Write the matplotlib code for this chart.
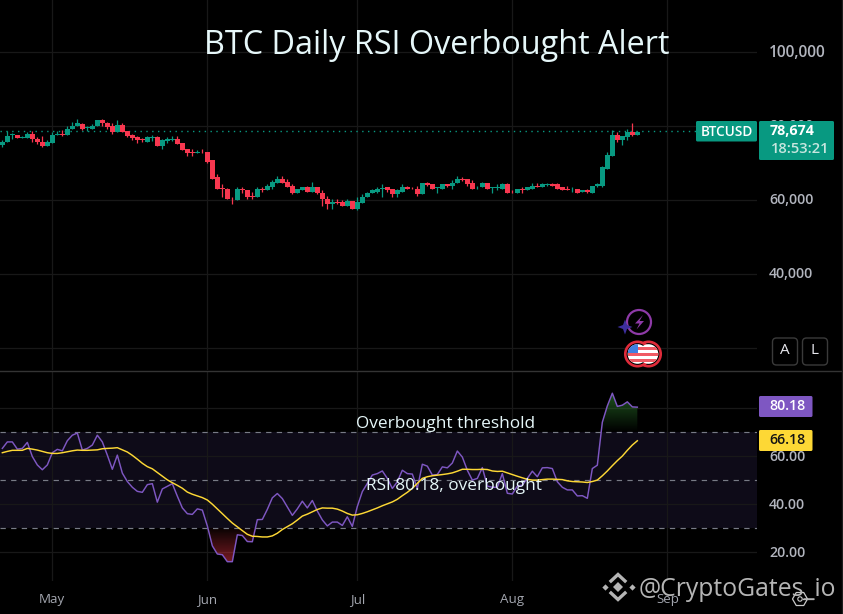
import numpy as np
import pandas as pd
import matplotlib
matplotlib.use("Agg")
import matplotlib.pyplot as plt
import matplotlib.dates as mdates
from matplotlib.patches import Circle, Rectangle, FancyBboxPatch, Polygon
from matplotlib.ticker import FixedLocator, FixedFormatter
from matplotlib.transforms import ScaledTranslation

START_DATE = "2024-04-21"

OPEN = [75.4,76.0,78.0,78.1,77.1,77.1,78.3,77.0,76.2,75.1,75.7,78.0,78.2,78.1,79.5,80.3,81.0,79.9,79.7,80.3,81.9,81.35,80.3,78.65,80.8,79.0,78.0,77.3,76.8,76.2,
        77.1,77.3,74.9,76.3,76.7,77.0,75.7,74.1,73.25,73.1,73.5,73.25,71.1,66.5,63.7,63.5,60.7,60.3,63.25,63.0,61.55,61.1,63.25,63.0,64.05,65.1,66.2,65.4,64.3,62.4,
        63.15,64.05,62.7,63.8,62.4,60.8,59.3,59.75,59.75,58.9,60.0,58.1,59.5,61.1,62.2,62.7,63.5,63.8,63.25,61.9,62.7,64.05,63.5,63.5,61.9,64.9,64.6,63.6,63.5,64.6,
        64.3,64.9,66.2,66.0,64.9,63.8,63.8,65.1,63.6,63.6,63.5,64.6,62.7,62.4,63.35,63.0,63.5,64.3,63.8,64.4,64.6,64.6,63.8,63.25,63.0,63.25,62.7,63.0,62.4,64.2,
        64.3,68.9,72.4,78.1,76.5,77.3,78.65,78.1]
HIGH = [76.7,79.1,78.4,78.1,77.75,78.65,79.1,77.3,77.6,76.6,78.65,79.0,79.2,80.45,81.6,82.4,81.2,80.45,80.9,82.1,82.2,81.6,81.1,81.9,81.35,79.0,78.3,77.75,77.2,77.6,
        78.0,77.6,77.0,77.3,77.7,77.8,75.7,74.3,74.1,73.8,74.1,73.5,71.1,67.3,64.6,63.7,61.35,64.05,64.05,63.15,62.7,63.8,64.05,64.6,65.7,67.0,66.8,66.2,64.6,63.5,
        64.05,64.2,65.4,64.05,63.0,61.6,60.55,60.55,60.3,60.55,60.0,61.1,61.9,62.7,63.25,63.8,64.6,64.05,63.5,63.25,64.6,64.3,64.05,64.3,64.9,65.4,64.6,64.05,64.6,64.6,
        65.7,66.8,66.5,66.0,65.7,64.3,65.4,65.1,63.8,64.6,64.9,65.1,63.0,63.5,63.8,64.05,64.9,64.9,65.1,64.9,65.1,65.1,64.05,64.3,63.8,63.25,63.0,63.25,64.3,64.9,
        69.7,73.25,79.2,78.65,77.75,79.7,81.1,79.0]
LOW = [74.6,76.0,76.85,77.1,77.1,77.1,76.2,75.5,74.6,75.1,75.7,78.0,77.8,78.0,79.5,80.3,79.3,79.0,79.7,80.3,80.45,79.7,78.2,78.65,78.65,77.3,76.6,75.7,76.0,76.2,
       76.4,74.9,74.1,75.8,76.3,75.5,73.8,72.25,72.2,73.0,73.0,70.4,66.0,63.5,61.1,60.55,59.2,60.3,62.2,60.55,60.55,61.1,62.7,63.0,63.5,65.1,65.1,63.8,61.9,62.2,
       63.15,62.7,62.7,61.9,58.9,57.85,58.1,59.4,58.65,58.9,57.85,57.6,59.5,61.1,62.2,62.2,61.1,62.7,61.35,61.35,62.7,63.25,63.25,61.6,61.9,64.3,63.25,62.2,63.5,64.05,
       63.5,64.9,65.5,64.3,63.5,63.5,63.8,63.25,62.4,63.0,63.25,62.4,62.2,62.4,62.2,63.0,63.5,63.8,63.8,64.3,64.3,63.5,63.0,63.0,62.7,62.2,62.7,62.4,62.4,63.8,
       64.05,68.65,72.4,76.2,75.4,76.5,77.6,78.1]
CLOSE = [76.2,77.8,78.1,77.1,77.3,78.3,76.85,76.0,75.1,76.0,78.0,78.2,78.0,79.5,80.5,81.1,79.5,80.1,80.5,81.9,81.1,80.0,78.65,80.8,78.65,77.7,77.1,76.6,76.6,77.3,
         77.3,74.9,76.5,76.8,77.0,75.5,73.8,73.0,73.1,73.4,73.3,70.8,66.2,63.5,63.5,60.55,60.55,63.25,63.1,61.35,61.35,63.25,63.0,64.3,65.4,66.2,65.1,64.05,62.4,63.25,
         64.05,62.7,63.8,62.2,60.55,59.2,59.75,59.55,58.9,60.0,58.1,59.75,61.35,62.4,63.0,63.5,63.7,63.0,61.9,63.0,64.05,63.25,63.25,61.9,64.9,64.4,63.25,63.9,64.6,64.3,
         65.1,66.2,65.8,64.6,63.5,64.05,65.1,63.25,63.8,63.9,64.6,62.4,62.5,63.25,63.15,63.8,64.3,63.8,64.6,64.6,64.3,63.5,63.0,63.0,63.15,62.4,63.0,62.7,64.3,64.6,
         69.2,72.7,78.1,76.5,77.6,78.65,78.1,78.67]
# read-off calibration of the candle values against the price grid, in thousands
PRICE_CAL = -0.35

RSI = [63.0,65.7,65.7,62.7,63.0,65.5,59.6,56.1,54.1,56.1,61.2,62.6,62.0,66.2,68.5,69.4,62.3,63.0,64.4,68.5,65.7,60.2,54.3,60.2,52.7,49.2,46.8,45.1,44.7,47.9,
       48.3,40.6,46.1,47.2,48.3,43.1,38.2,35.8,35.5,37.8,37.3,30.7,22.4,19.0,18.7,15.8,15.8,27.0,26.7,24.2,24.1,33.3,33.4,37.6,42.4,44.2,42.1,38.6,35.1,37.8,
       41.0,38.2,41.3,36.9,33.2,30.7,32.3,32.3,30.9,34.5,
       30.5,38.8,45.0,48.4,51.9,52.5,53.6,50.5,46.3,49.1,53.9,52.5,52.3,46.3,56.4,55.6,51.9,52.1,55.3,54.9,56.9,61.9,59.4,53.9,49.8,50.5,55.0,47.3,46.8,46.8,
       52.5,44.3,44.0,47.3,47.7,50.5,53.5,51.2,54.9,55.0,54.6,49.1,46.8,45.7,45.7,43.2,43.3,42.2,54.6,56.0,73.9,80.7,86.0,80.5,81.0,82.4,80.3,80.18]
RSI_MA = [61.2,61.75,62.2,62.2,62.2,63.0,62.7,62.3,61.75,61.2,60.9,60.9,61.2,61.6,62.0,62.3,62.2,62.2,62.3,62.4,62.85,63.0,63.1,63.3,62.4,61.5,60.1,58.5,56.8,55.4,
          54.5,52.95,51.4,49.9,48.7,47.6,46.4,44.8,43.9,43.2,42.5,41.5,39.75,37.8,35.8,33.8,31.9,30.3,28.75,27.2,26.4,26.3,26.1,26.1,26.55,27.65,29.2,30.4,31.6,33.15,
          34.8,35.6,36.6,37.55,38.2,38.1,38.1,37.7,36.9,35.9,
          35.2,35.35,35.9,36.6,37.4,38.2,39.1,39.9,40.7,41.8,43.3,44.7,46.35,48.4,50.5,51.2,51.6,51.85,52.1,52.4,52.8,53.5,54.3,54.3,54.2,54.2,54.3,54.2,53.6,53.4,
          53.5,52.8,52.1,51.4,50.75,50.1,49.8,49.8,50.0,50.2,50.2,50.1,50.0,49.5,49.2,49.1,49.0,48.8,49.2,49.8,51.6,53.6,55.8,57.9,59.8,62.2,64.4,66.18]

PRICE_TICKS = [20, 40, 60, 80, 100]
PRICE_LABELS = ["", "40,000", "60,000", "80,000", "100,000"]
RSI_TICKS = [20, 40, 60, 80]
RSI_LABELS = ["20.00", "40.00", "60.00", ""]
RSI_LEVELS = [30, 50, 70]
LAST_PRICE = 78.674
TITLE = "BTC Daily RSI Overbought Alert"

W, H = 843, 614
BG = "#000000"
GRID = "#181818"
GREEN = "#089981"
RED = "#f7374f"
PURPLE = "#7e57c2"
YELLOW = "#fdd835"
AXTXT = "#b2b5be"
UI = "Open Sans"

plt.rcParams["font.family"] = [UI, "DejaVu Sans"]

fig = plt.figure(figsize=(W / 100, H / 100), dpi=100, facecolor=BG)

PANE_R = 757
PRICE_B = 370
RSI_T, RSI_B = 371, 581
PY60 = 200.2
RY60 = 455.6


def pane(top, bottom):
    a = fig.add_axes([0, 1 - bottom / H, PANE_R / W, (bottom - top) / H], facecolor=BG)
    for s in a.spines.values():
        s.set_visible(False)
    return a


ax = pane(0, PRICE_B)
ax2 = pane(RSI_T, RSI_B)

dates = pd.date_range(START_DATE, periods=len(CLOSE), freq="D")
xs = mdates.date2num(dates)
may1 = mdates.date2num(pd.Timestamp("2024-05-01"))
x0 = may1 - 52.33 / 5
xlim = (x0, x0 + PANE_R / 5)

o, h, l, c = [np.array(v) + PRICE_CAL for v in (OPEN, HIGH, LOW, CLOSE)]
colors = [GREEN if ci >= oi else RED for oi, ci in zip(o, c)]
ax.vlines(xs, l, h, colors=colors, lw=0.9, zorder=3)
ax.bar(xs, np.maximum(np.abs(c - o), 0.15), bottom=np.minimum(o, c), width=0.96,
       color=colors, linewidth=0, zorder=4)
ax.axhline(LAST_PRICE, color=GREEN, lw=1.0, ls=(0, (1, 3.2)), zorder=2)
ylim1 = (60 - (PRICE_B - PY60) / 3.7, 60 + PY60 / 3.7)
ylim2 = (60 - (RSI_B - RY60) / 2.4, 60 + (RY60 - RSI_T) / 2.4)
ax.set_ylim(ylim1)
ax.set_xlim(xlim)

ax2.axhspan(30, 70, color="#0e0b18", lw=0, zorder=0)
for lv in RSI_LEVELS:
    ax2.axhline(lv, color="#787b86", lw=0.85, ls=(0, (4.5, 4.5)), zorder=2)
rsi = np.array(RSI)
ma = np.array(RSI_MA)


def grad_fill(mask_poly, lo, hi, rgb, a_lo, a_hi):
    n = 64
    img = np.zeros((n, 1, 4))
    img[..., 0], img[..., 1], img[..., 2] = rgb
    img[:, 0, 3] = np.clip(np.linspace(a_lo, a_hi, n), 0, 1)
    im = ax2.imshow(img, extent=(xlim[0], xlim[1], lo, hi), origin="lower",
                    aspect="auto", interpolation="bilinear", zorder=1)
    p = mask_poly.get_paths()[0]
    im.set_clip_path(p, transform=ax2.transData)


poly_lo = ax2.fill_between(xs, rsi, 30, where=rsi < 30, interpolate=True, alpha=0, lw=0)
grad_fill(poly_lo, 15, 30, (0.95, 0.21, 0.27), 0.52, 0.03)
poly_hi = ax2.fill_between(xs, rsi, 70, where=rsi > 70, interpolate=True, alpha=0, lw=0)
grad_fill(poly_hi, 70, 87, (0.2, 0.55, 0.2), 0.0, 0.62)
ax2.set_xlim(xlim)
ax2.set_ylim(ylim2)

ax2.plot(xs, rsi, color=PURPLE, lw=1.05, zorder=4)
ax2.plot(xs, ma, color=YELLOW, lw=1.05, zorder=5)

for a, ticks, labels in ((ax, PRICE_TICKS, PRICE_LABELS), (ax2, RSI_TICKS, RSI_LABELS)):
    a.yaxis.set_major_locator(FixedLocator(ticks))
    a.yaxis.set_major_formatter(FixedFormatter(labels))
    a.yaxis.tick_right()
    a.tick_params(axis="y", length=0, pad=8.6, labelsize=10.2, labelcolor=AXTXT)
    for t in a.get_yticklabels():
        t.set_fontweight("semibold")
    a.xaxis.set_major_locator(mdates.MonthLocator())
    a.grid(True, color=GRID, lw=0.9, zorder=0)
    a.set_axisbelow(True)

ax.tick_params(axis="x", length=0, labelbottom=False)
ax2.xaxis.set_major_formatter(mdates.DateFormatter("%b"))
ax2.tick_params(axis="x", length=0, pad=8.5, labelsize=9.6, labelcolor="#a3a6af")

# lift the price-scale labels a little, and the top one is drawn larger
fig.canvas.draw()
lift = ScaledTranslation(0, 1.5 / 72 * 0.72 * 1.0, fig.dpi_scale_trans)
for tick in ax.yaxis.get_major_ticks():
    tick.label2.set_transform(tick.label2.get_transform() + lift)
    if tick.label2.get_text() == "100,000":
        tick.label2.set_fontsize(11.2)

# overlay in figure pixels for the interface furniture
ov = fig.add_axes([0, 0, 1, 1], facecolor="none", zorder=10)
ov.set_xlim(0, W)
ov.set_ylim(H, 0)
ov.axis("off")

ov.plot([0, W], [370.5, 370.5], color="#343434", lw=1)
ov.plot([841.5, 841.5], [0, H], color="#1d1d1d", lw=1)


def box(x0_, y0_, x1_, y1_, fc, ec="none", r=1.5, lw=0):
    ov.add_patch(FancyBboxPatch((x0_ + r, y0_ + r), x1_ - x0_ - 2 * r, y1_ - y0_ - 2 * r,
                                boxstyle=f"round,pad={r},rounding_size={r}", fc=fc, ec=ec, lw=lw))


box(696, 121, 757, 141.5, GREEN)
ov.text(727, 131.5, "BTCUSD", color="#ffffff", fontsize=9.8, fontweight="semibold", ha="center", va="center")
box(759, 121, 834, 160, GREEN)
ov.text(770, 131, "78,674", color="#ffffff", fontsize=10.3, fontweight="bold", ha="left", va="center")
ov.text(771, 149, "18:53:21", color="#c7e6df", fontsize=10.6, fontweight="semibold", ha="left", va="center")
box(759, 396, 812.5, 417, PURPLE)
ov.text(769, 406.5, "80.18", color="#ffffff", fontsize=10.2, fontweight="semibold", ha="left", va="center")
box(759, 430, 812.5, 451, YELLOW)
ov.text(769, 440.5, "66.18", color="#131313", fontsize=10.2, fontweight="semibold", ha="left", va="center")

for cx, s in ((785, "A"), (815, "L")):
    box(cx - 12.5, 338, cx + 12.5, 365, "#000000", ec="#3a3a3a", r=4, lw=1)
    ov.text(cx, 351, s, color="#e8e8ee", fontsize=11, ha="center", va="center")

# event icons
ov.add_patch(Circle((639, 322), 12, fc="#000000", ec="#8e3aa8", lw=1.6))
ov.add_patch(Polygon([(643, 315), (635, 323.5), (639.5, 323.5), (636.5, 329.5), (644, 321), (639.5, 321)],
                     fc="#8e3aa8", ec="none"))
ov.add_patch(Polygon([(625, 319.5), (627, 325), (632.5, 327), (627, 329), (625, 334.5), (623, 329), (617.5, 327), (623, 325)],
                     fc="#3d2f9e", ec="none", zorder=5))
for cx in (648.5, 637.5):
    ov.add_patch(Circle((cx, 354), 12.2, fc="#000000", ec="#e02b3a", lw=1.9, zorder=6))
    ov.add_patch(Circle((cx, 354), 9.8, fc="#ffffff", ec="none", zorder=6.05))
    for yy in (347, 353, 359):
        r_ = Rectangle((cx - 10, yy), 20, 3, fc="#f05a64", ec="none", zorder=6.1)
        ov.add_patch(r_)
        r_.set_clip_path(Circle((cx, 354), 9.8, transform=ov.transData))
    if cx < 640:
        r_ = Rectangle((cx - 10, 344), 10.5, 9, fc="#3f7fe0", ec="none", zorder=6.2)
        ov.add_patch(r_)
        r_.set_clip_path(Circle((cx, 354), 9.8, transform=ov.transData))

ov.text(437, 46, TITLE, color="#e6f7f9", fontsize=23.3, ha="center", va="center", family=UI)
ov.text(445.5, 424, "Overbought threshold", color="#e6f7f9", fontsize=12.4, ha="center", va="center", family=UI)
ov.text(453.5, 486, "RSI 80.18, overbought", color="#e6f7f9", fontsize=12.4, ha="center", va="center", family=UI)

# watermark
WM = "#b5b5b5"
ov.text(639, 590, "@CryptoGates_io", color=WM, fontsize=17.8, ha="left", va="center", family=UI)
lcx, lcy = 618, 587
ov.plot([lcx - 13.5, lcx + 13.5], [lcy, lcy], ls="none", marker="D", ms=3.2, color=WM, mew=0)
ov.plot([lcx], [lcy], marker="D", ms=5, color=WM, mew=0)
ov.plot([lcx - 7, lcx, lcx + 7], [lcy - 6, lcy - 12.5, lcy - 6], color=WM, lw=2.4, solid_joinstyle="miter")
ov.plot([lcx - 7, lcx, lcx + 7], [lcy + 6, lcy + 12.5, lcy + 6], color=WM, lw=2.4, solid_joinstyle="miter")
hx = 800 + 7.5 * np.cos(np.radians(np.arange(0, 361, 60)))
hy = 599 + 7.5 * np.sin(np.radians(np.arange(0, 361, 60)))
ov.plot(hx, hy, color="#c9c9c9", lw=0.9)
ov.add_patch(Circle((800, 599), 2.2, fc="none", ec="#c9c9c9", lw=0.8))
ov.plot([803, 813], [599, 599], color="#c9c9c9", lw=0.9)

fig.savefig("out.png", dpi=100, facecolor=BG)
